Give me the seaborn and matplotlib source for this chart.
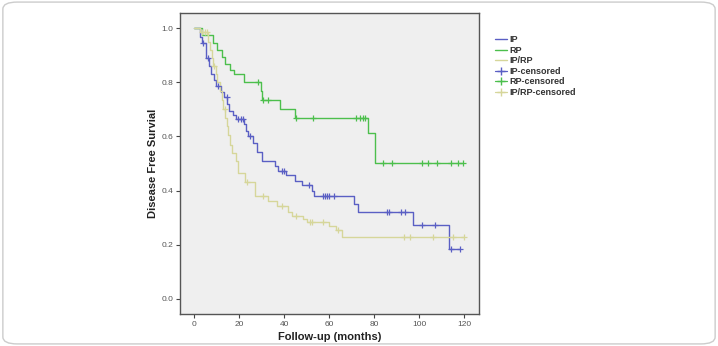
import numpy as np
import pandas as pd
import matplotlib
matplotlib.use("Agg")
import matplotlib.pyplot as plt
import seaborn as sns
from matplotlib.lines import Line2D
from matplotlib.patches import FancyBboxPatch

# step data (months, survival)
ip_t = [0, 2.5, 3.5, 5.0, 6.5, 7.5, 8.5, 9.5, 12.0, 13.0, 14.5, 15.5, 17.0, 18.5,
        22.0, 23.0, 24.0, 26.2, 28.0, 30.0, 36.0, 37.0, 40.5, 44.7, 47.7, 52.1,
        53.0, 71.0, 72.9, 97.0, 113.3, 118.0]
ip_s = [1.0, 0.97, 0.945, 0.89, 0.86, 0.83, 0.81, 0.785, 0.765, 0.745, 0.72, 0.695,
        0.68, 0.665, 0.645, 0.62, 0.60, 0.575, 0.543, 0.508, 0.49, 0.474, 0.456,
        0.437, 0.419, 0.40, 0.378, 0.35, 0.32, 0.274, 0.183, 0.183]
ip_cens = [4.0, 6.2, 10.7, 14.4, 19.6, 20.7, 21.5, 24.7, 38.8, 39.9, 51.1, 57.3,
           58.0, 58.8, 60.0, 62.0, 85.5, 86.7, 91.7, 93.6, 101.0, 107.0, 114.0, 118.0]

rp_t = [0, 3.3, 8.4, 10.1, 12.3, 13.8, 16.0, 17.5, 22.0, 29.5, 30.0, 38.0, 44.7,
        77.3, 80.3, 119.6]
rp_s = [1.0, 0.975, 0.947, 0.92, 0.895, 0.87, 0.846, 0.833, 0.80, 0.767, 0.735,
        0.70, 0.667, 0.614, 0.50, 0.50]
rp_cens = [28.4, 30.4, 32.9, 45.0, 52.9, 72.0, 73.6, 75.0, 76.0, 84.0, 88.0,
           101.0, 104.0, 108.0, 114.0, 117.3, 119.6]

iprp_t = [0, 2.5, 6.0, 7.0, 7.8, 8.4, 9.6, 10.2, 11.4, 12.1, 12.9, 13.6, 14.4,
          15.1, 15.9, 16.6, 18.5, 19.3, 22.5, 27.0, 32.9, 36.6, 41.8, 43.3, 48.4,
          49.9, 60.0, 63.0, 65.5, 120.0]
iprp_s = [1.0, 0.985, 0.95, 0.92, 0.89, 0.86, 0.83, 0.80, 0.77, 0.735, 0.70, 0.67,
          0.64, 0.605, 0.57, 0.54, 0.51, 0.465, 0.43, 0.378, 0.36, 0.342, 0.32,
          0.305, 0.295, 0.283, 0.267, 0.254, 0.227, 0.227]
iprp_cens = [3.5, 4.5, 5.5, 8.9, 13.4, 23.3, 30.5, 38.8, 45.2, 51.4, 52.4, 57.0,
             64.0, 93.0, 96.0, 106.0, 115.0, 120.0]

groups = ["IP", "RP", "IP/RP"]
colors = {"IP": "#5a5fc4", "RP": "#4cbf4c", "IP/RP": "#d6d69a"}


def surv_at(t, s, x):
    # survival value of the step curve at time x
    idx = np.searchsorted(t, x, side="right") - 1
    return np.array(s)[idx]


curves = pd.concat([
    pd.DataFrame({"t": ip_t, "s": ip_s, "group": "IP"}),
    pd.DataFrame({"t": rp_t, "s": rp_s, "group": "RP"}),
    pd.DataFrame({"t": iprp_t, "s": iprp_s, "group": "IP/RP"}),
])
cens = pd.concat([
    pd.DataFrame({"t": ip_cens, "s": surv_at(ip_t, ip_s, ip_cens), "group": "IP"}),
    pd.DataFrame({"t": rp_cens, "s": surv_at(rp_t, rp_s, rp_cens), "group": "RP"}),
    pd.DataFrame({"t": iprp_cens, "s": surv_at(iprp_t, iprp_s, iprp_cens), "group": "IP/RP"}),
])

sns.set_style("ticks")
plt.rcParams["font.family"] = ["Liberation Sans", "DejaVu Sans"]

fig = plt.figure(figsize=(7.18, 3.46), dpi=100)
ax = fig.add_axes([180 / 718, 32 / 346, 299 / 718, 301 / 346])
ax.set_facecolor("#efefef")

for g in groups:
    d = curves[curves["group"] == g]
    sns.lineplot(data=d, x="t", y="s", ax=ax, color=colors[g], lw=1.0,
                 drawstyle="steps-post", estimator=None, sort=False, legend=False)
for g in groups:
    d = cens[cens["group"] == g]
    ax.scatter(d["t"], d["s"], marker="+", s=22, linewidths=0.9,
               color=colors[g], zorder=3)

ax.set_xlim(-6.4, 126.5)
ax.set_ylim(-0.057, 1.057)
ax.set_xticks([0, 20, 40, 60, 80, 100, 120])
ax.set_yticks([0.0, 0.2, 0.4, 0.6, 0.8, 1.0])
ax.set_yticklabels(["0.0", "0.2", "0.4", "0.6", "0.8", "1.0"])
ax.tick_params(labelsize=6, labelcolor="#555555", length=3, width=0.8,
               color="#444444", pad=2)
for sp in ax.spines.values():
    sp.set_color("#555555")
    sp.set_linewidth(1.0)

ax.set_xlabel("Follow-up (months)", fontsize=8, fontweight="bold", color="#222222", labelpad=3)
ax.set_ylabel("Disease Free Survial", fontsize=8, fontweight="bold", color="#222222", labelpad=2)

handles = [Line2D([], [], color=colors[g], lw=1.0, drawstyle="steps-post") for g in groups]
handles += [Line2D([], [], color=colors[g], lw=0.9, marker="+", markersize=6) for g in groups]
labels = ["IP", "RP", "IP/RP", "IP-censored", "RP-censored", "IP/RP-censored"]
fig.legend(handles, labels, loc="upper left", bbox_to_anchor=(487 / 718, 1 - 27 / 346),
           frameon=False, prop={"size": 6.5, "weight": "bold"}, handlelength=1.3,
           handletextpad=0.3, labelspacing=0.17, labelcolor="#333333")

fig.patches.append(FancyBboxPatch((0.004, 0.006), 0.992, 0.988,
                                  boxstyle="round,pad=0,rounding_size=0.02",
                                  transform=fig.transFigure, fill=False,
                                  edgecolor="#cccccc", lw=1.0))

fig.savefig("out.png", dpi=100)
